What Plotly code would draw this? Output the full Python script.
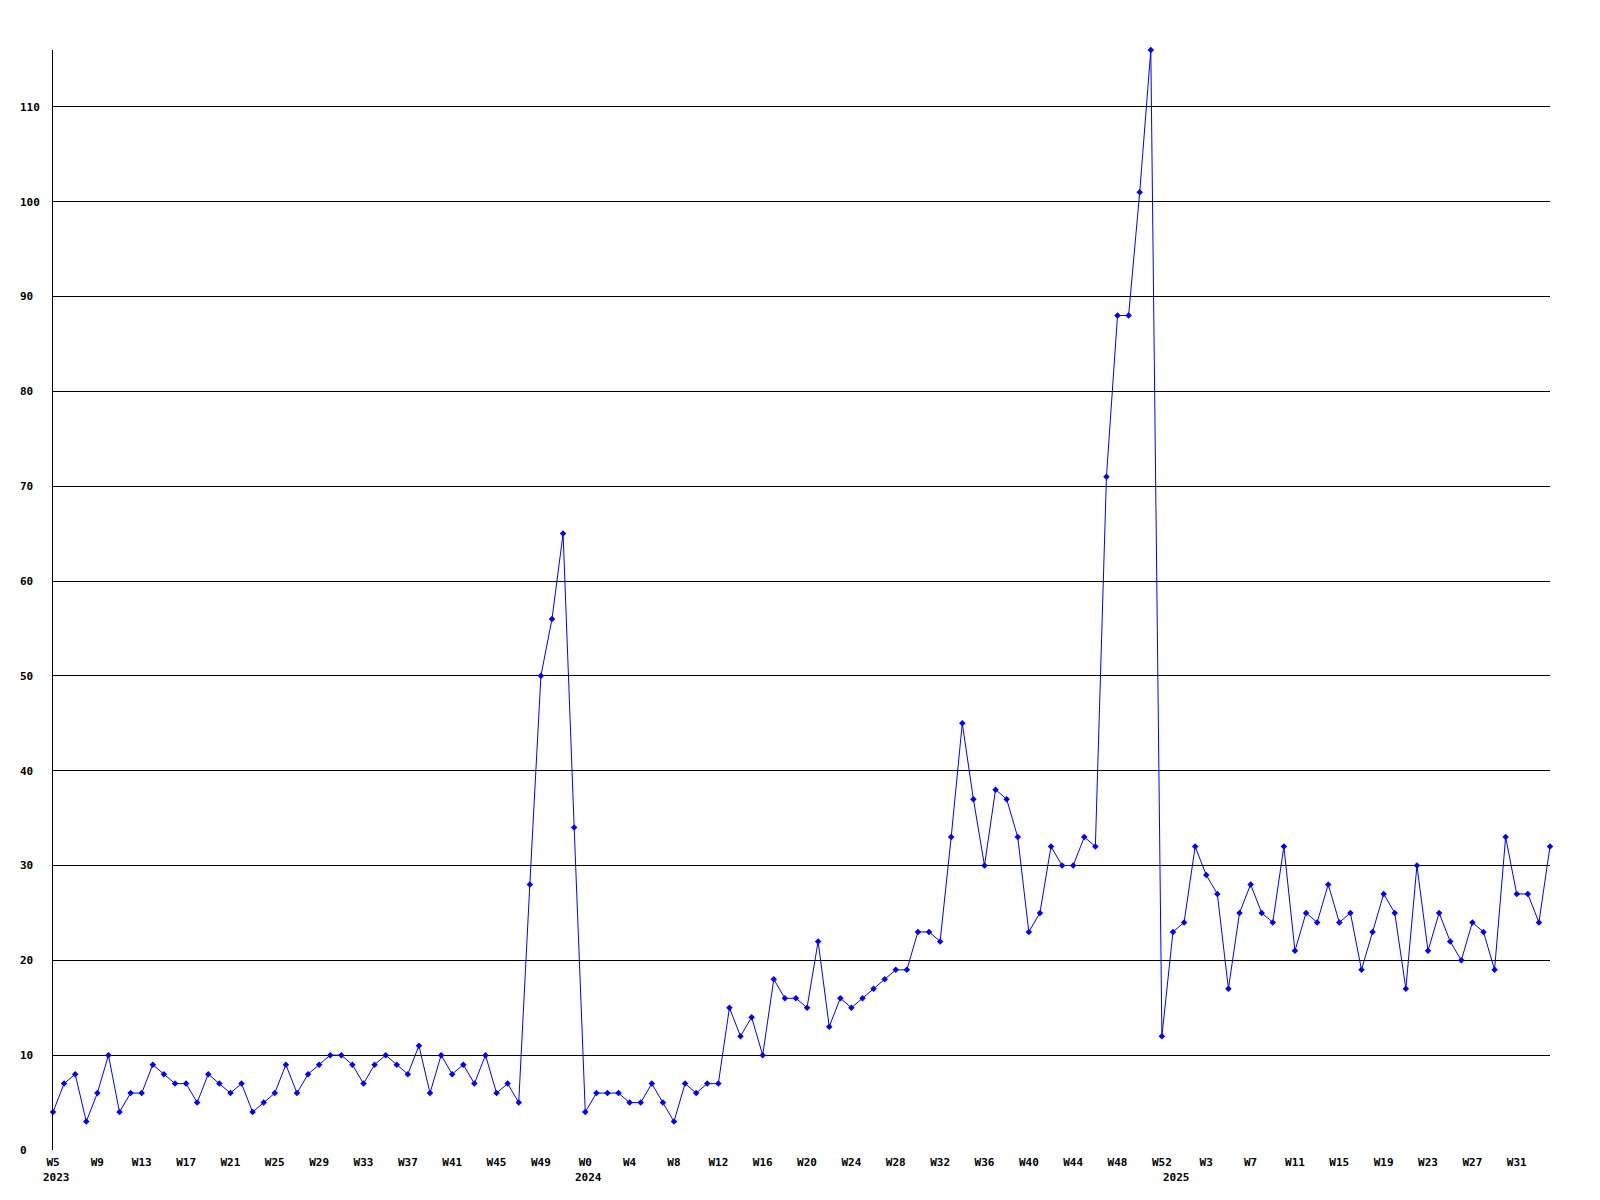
import plotly.graph_objects as go

# Week numbers per year (x axis is sequential week index)
weeks_2023 = list(range(5, 53))
weeks_2024 = list(range(0, 53))
weeks_2025 = list(range(0, 35))

values = [
    4, 7, 8, 3, 6, 10, 4, 6, 6, 9, 8, 7, 7, 5, 8, 7, 6, 7, 4, 5,
    6, 9, 6, 8, 9, 10, 10, 9, 7, 9, 10, 9, 8, 11, 6, 10, 8, 9, 7, 10,
    6, 7, 5, 28, 50, 56, 65, 34, 4, 6, 6, 6, 5, 5, 7, 5, 3, 7, 6, 7,
    7, 15, 12, 14, 10, 18, 16, 16, 15, 22, 13, 16, 15, 16, 17, 18, 19, 19, 23, 23,
    22, 33, 45, 37, 30, 38, 37, 33, 23, 25, 32, 30, 30, 33, 32, 71, 88, 88, 101, 116,
    12, 23, 24, 32, 29, 27, 17, 25, 28, 25, 24, 32, 21, 25, 24, 28, 24, 25, 19, 23,
    27, 25, 17, 30, 21, 25, 22, 20, 24, 23, 19, 33, 27, 27, 24, 32,
]

tick_index = [0, 4, 8, 12, 16, 20, 24, 28, 32, 36, 40, 44,
              48, 52, 56, 60, 64, 68, 72, 76, 80, 84, 88, 92, 96, 100,
              104, 108, 112, 116, 120, 124, 128, 132]
tick_text = ["W5", "W9", "W13", "W17", "W21", "W25", "W29", "W33", "W37", "W41", "W45", "W49",
             "W0", "W4", "W8", "W12", "W16", "W20", "W24", "W28", "W32", "W36", "W40", "W44", "W48", "W52",
             "W3", "W7", "W11", "W15", "W19", "W23", "W27", "W31"]
year_index = [0, 48, 101]
year_text = ["2023", "2024", "2025"]

y_ticks = [0, 10, 20, 30, 40, 50, 60, 70, 80, 90, 100, 110]

x = list(range(len(values)))

font = dict(family="DejaVu Sans Mono", size=11, color="black", weight="bold")

fig = go.Figure()
fig.add_trace(go.Scatter(
    x=x, y=values, mode="lines+markers",
    line=dict(color="#0000ff", width=1),
    marker=dict(symbol="diamond", size=5, color="#0000ff"),
    cliponaxis=False, showlegend=False,
))

# y labels left-aligned by padding with non-breaking spaces (monospace)
ylab = [str(v) + "\u00a0" * (3 - len(str(v))) for v in y_ticks]

annotations = []
for xi, yr in zip(year_index, year_text):
    annotations.append(dict(
        x=xi, y=0, xref="x", yref="y", text=yr, showarrow=False,
        xanchor="left", yanchor="top", yshift=-19, xshift=-12,
        font=font,
    ))

fig.update_layout(
    width=1600, height=1200,
    margin=dict(l=40, r=58, t=42, b=58),
    paper_bgcolor="white", plot_bgcolor="white",
    font=font,
    xaxis=dict(
        range=[0, len(values) - 1], tickmode="array", tickvals=tick_index, ticktext=tick_text,
        showgrid=False, zeroline=False, showline=False, ticks="", ticklabelstandoff=4,
        tickfont=font,
    ),
    yaxis=dict(
        range=[0, 116], tickmode="array", tickvals=y_ticks, ticktext=ylab,
        showgrid=True, gridcolor="black", gridwidth=1, zeroline=False,
        showline=True, linecolor="black", linewidth=1, ticks="", ticklabelstandoff=10,
        tickfont=font,
    ),
    annotations=annotations,
)

fig.write_html("out.html")
